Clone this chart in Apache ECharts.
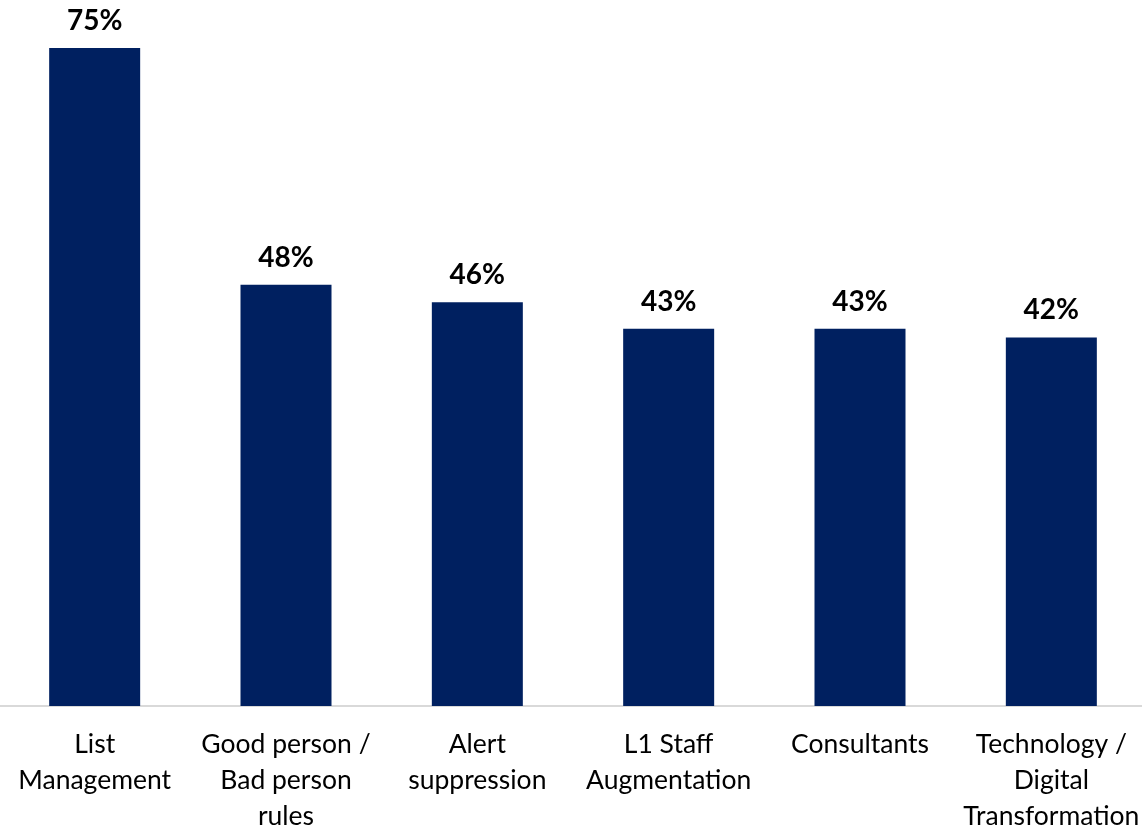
<!DOCTYPE html>
<html>
<head>
<meta charset="utf-8">
<style>
  html, body { margin: 0; padding: 0; background: #ffffff; }
  #chart { width: 1142px; height: 829px; }
</style>
<script src="https://cdn.jsdelivr.net/npm/echarts@6/dist/echarts.min.js"></script>
</head>
<body>
<div id="chart"></div>
<script>
// Categories (line breaks as shown under each bar)
const categories = [
  'List\nManagement',
  'Good person /\nBad person\nrules',
  'Alert\nsuppression',
  'L1 Staff\nAugmentation',
  'Consultants',
  'Technology /\nDigital\nTransformation'
];

// Share of respondents, in percent
const values = [75, 48, 46, 43, 43, 42];

const chart = echarts.init(document.getElementById('chart'), null, { renderer: 'canvas' });

chart.setOption({
  animation: false,
  backgroundColor: '#ffffff',
  grid: {
    left: -1, right: -5, top: 4, bottom: 123,
    containLabel: false,
    outerBoundsMode: 'none'
  },
  xAxis: {
    type: 'category',
    data: categories,
    axisTick: { show: false },
    axisLine: { show: true, lineStyle: { color: '#d9d9d9', width: 2 } },
    axisLabel: {
      interval: 0,
      margin: 20,
      color: '#000000',
      fontFamily: 'Lato',
      fontSize: 26.5,
      lineHeight: 36,
      align: 'center'
    }
  },
  yAxis: {
    type: 'value',
    min: 0,
    max: 80,
    show: false,
    splitLine: { show: false }
  },
  series: [{
    type: 'bar',
    data: values,
    barWidth: 91,
    itemStyle: { color: '#002060' },
    label: {
      show: true,
      position: 'top',
      distance: 13,
      formatter: p => p.value + '%',
      color: '#000000',
      fontFamily: 'Lato',
      fontWeight: 'bold',
      fontSize: 28
    }
  }]
});
</script>
</body>
</html>
